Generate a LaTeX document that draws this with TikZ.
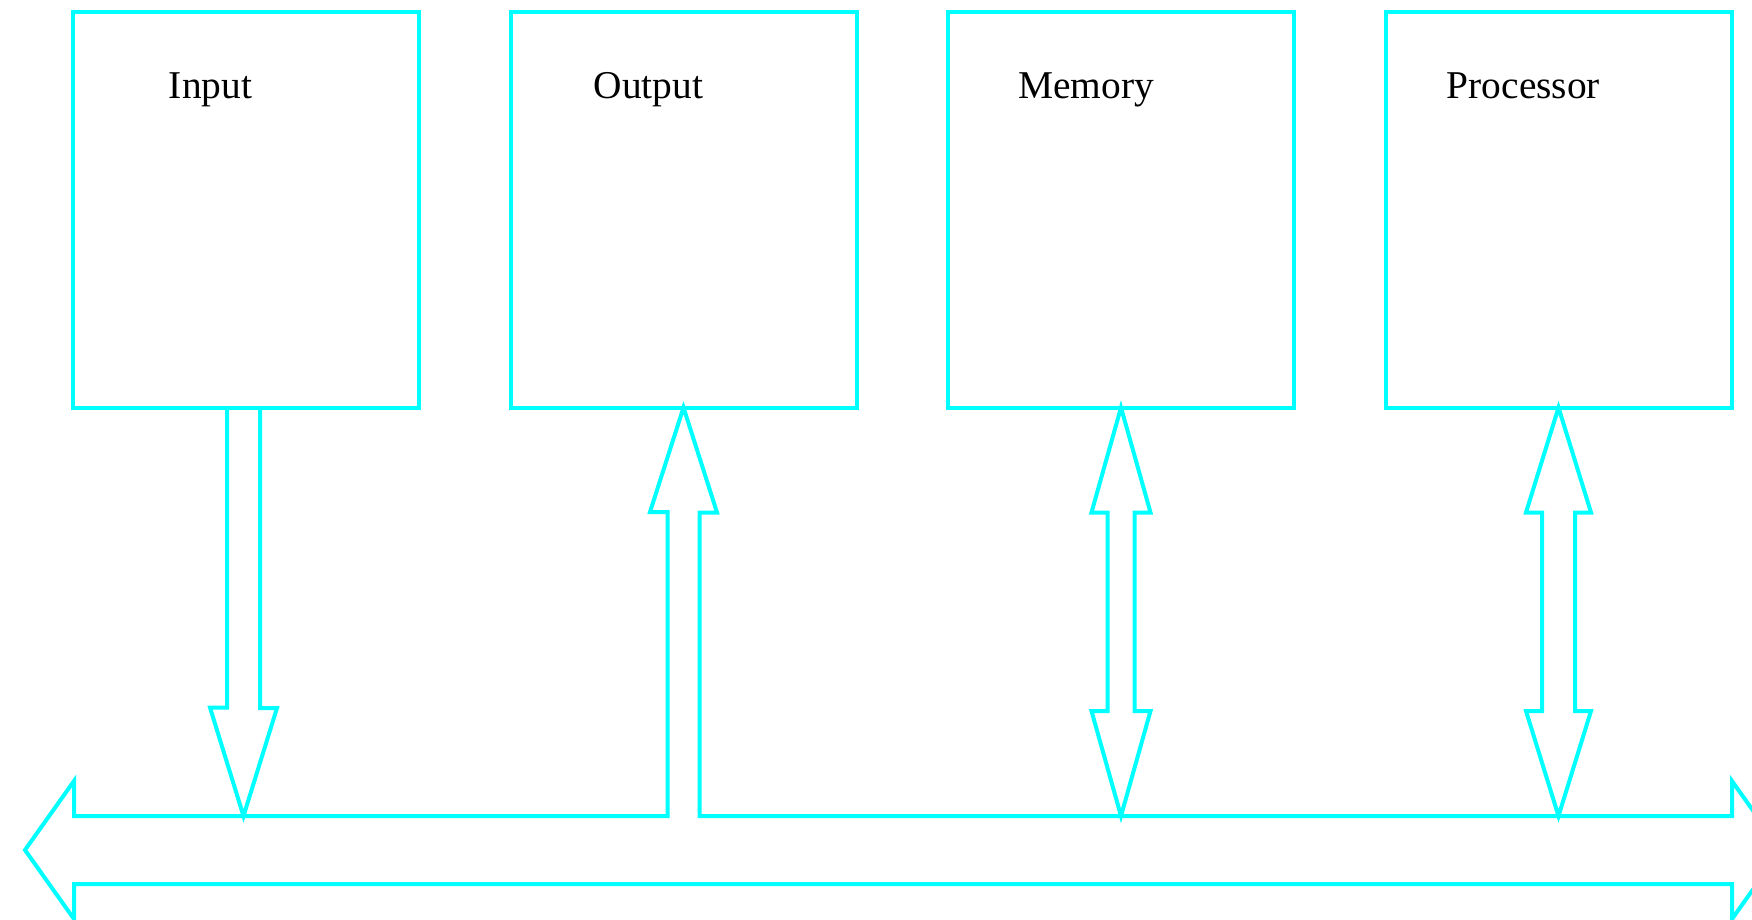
\documentclass[tikz,border=0pt]{standalone}
\usepackage{fontspec}
\setmainfont{Liberation Serif}
\usetikzlibrary{calc}
\definecolor{linkcyan}{RGB}{0,255,255}
\tikzset{
  unitbox/.style={draw=linkcyan, line width=2pt, minimum width=173pt,
    minimum height=197.5pt, inner sep=0pt, outer sep=0pt},
  unitname/.style={anchor=base, font=\fontsize{19.7}{24}\selectfont, inner sep=0pt},
  blockarrow/.style={draw=linkcyan, line width=2pt}
}
\begin{document}
\begin{tikzpicture}[x=0.5pt,y=-0.5pt]
  \useasboundingbox (0,0) rectangle (1752,920);
  % units
  \foreach \name/\text/\cx in {input/Input/245.5,output/Output/683.5,memory/Memory/1121,processor/Processor/1558.5}{
    \node[unitbox] (\name) at (\cx,210) {};
    \node[unitname] (\name-name) at (\cx-35,99) {\text};
  }
  % bus
  \coordinate (busleft) at (25,850);
  \coordinate (busright) at (1781,850);
  \coordinate (bustop) at (0,816);
  \coordinate (inputtail) at ($(input.south)+(-2,0)$);
  \draw[blockarrow] (busleft) -- (74,781) -- (74,816)
    -- ($(output.south |- bustop)+(-16,0)$) -- ++(0,-304) -- ++(-17.5,0)
    -- (output.south) -- ++(33.5,105) -- ++(-17.5,0)
    -- ($(output.south |- bustop)+(16,0)$)
    -- (1732,816) -- (1732,781) -- (busright) -- (1732,919) -- (1732,884)
    -- (74,884) -- (74,919) -- cycle;
  % input to bus
  \draw[blockarrow] ($(inputtail)+(-16.5,0)$) -- ++(0,300) -- ++(-17,0)
    -- (inputtail |- bustop) -- ++(33.5,-108) -- ++(-17,0) -- ($(inputtail)+(16.5,0)$);
  % memory and processor links
  \foreach \name/\head/\shaft in {memory/29.5/13.5,processor/32.5/16.5}{
    \draw[blockarrow] (\name.south) -- ++(\head,105) -- ++({\shaft-\head},0)
      -- ($(\name.south |- bustop)+(\shaft,-105)$) -- ++({\head-\shaft},0)
      -- (\name.south |- bustop) -- ++(-\head,-105) -- ++({\head-\shaft},0)
      -- ($(\name.south)+(-\shaft,105)$) -- ++({\shaft-\head},0) -- cycle;
  }
\end{tikzpicture}
\end{document}
